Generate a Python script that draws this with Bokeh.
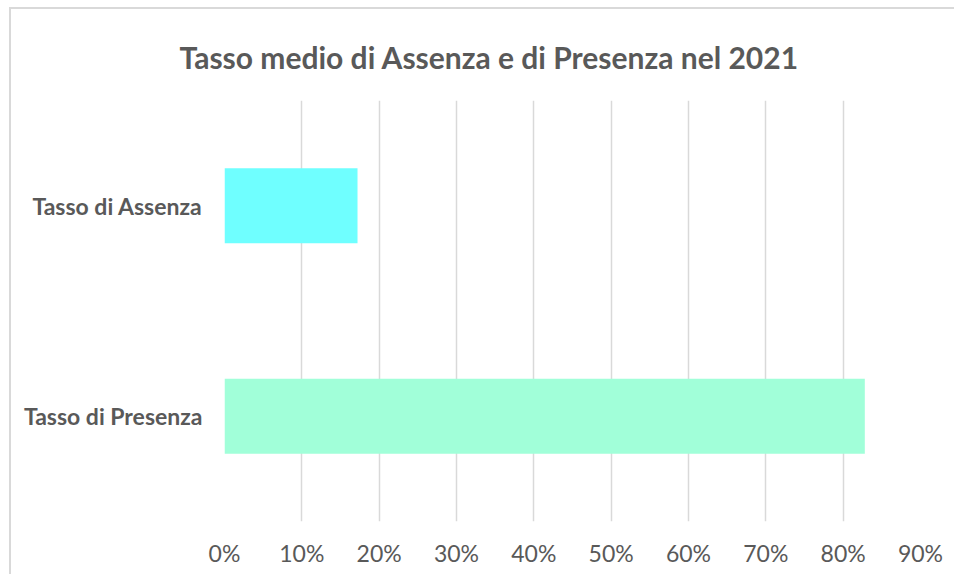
from bokeh.plotting import figure
from bokeh.models import ColumnDataSource, FactorRange, Range1d, NumeralTickFormatter, FixedTicker
from bokeh.embed import file_html
from bokeh.resources import INLINE

title_text = "Tasso medio di Assenza e di Presenza nel 2021"
categories = ["Tasso di Presenza", "Tasso di Assenza"]
values = [0.828, 0.172]
colors = ["#A1FFD9", "#6FFFFF"]
ticks = [0.0, 0.1, 0.2, 0.3, 0.4, 0.5, 0.6, 0.7, 0.8, 0.9]

src = ColumnDataSource(dict(cat=categories, val=values, color=colors))

p = figure(width=945, height=567, output_backend="svg", toolbar_location=None,
           y_range=FactorRange(*categories, range_padding=0),
           x_range=Range1d(0, 0.9),
           min_border_left=213, min_border_right=36, min_border_top=91, min_border_bottom=55,
           styles={"border-left": "2px solid #d9d9d9", "border-top": "2px solid #d9d9d9",
                   "margin-left": "9px", "margin-top": "7px"})

p.hbar(y="cat", right="val", left=0, height=0.356, fill_color="color", line_color=None, source=src)

p.title.text = title_text
p.title.text_font = "Lato"
p.title.text_font_size = "30px"
p.title.text_font_style = "bold"
p.title.text_color = "#595959"
p.title.align = "left"
p.title.offset = -45
p.title.standoff = 52

p.xaxis.ticker = FixedTicker(ticks=ticks)
p.xaxis.formatter = NumeralTickFormatter(format="0%")
p.xaxis.major_label_text_font = "Lato"
p.xaxis.major_label_text_font_size = "23px"
p.xaxis.major_label_text_color = "#595959"
p.xaxis.major_label_standoff = 11
p.xaxis.axis_line_color = None
p.xaxis.major_tick_line_color = None
p.xaxis.minor_tick_line_color = None

p.yaxis.major_label_text_font = "Lato"
p.yaxis.major_label_text_font_size = "23px"
p.yaxis.major_label_text_font_style = "bold"
p.yaxis.major_label_text_color = "#595959"
p.yaxis.major_label_standoff = 16
p.yaxis.axis_line_color = None
p.yaxis.major_tick_line_color = None
p.yaxis.minor_tick_line_color = None

p.xgrid.grid_line_color = "#d9d9d9"
p.xgrid.grid_line_width = 1.5
p.ygrid.grid_line_color = None
p.outline_line_color = None

open("out.html", "w").write(file_html(p, INLINE))
